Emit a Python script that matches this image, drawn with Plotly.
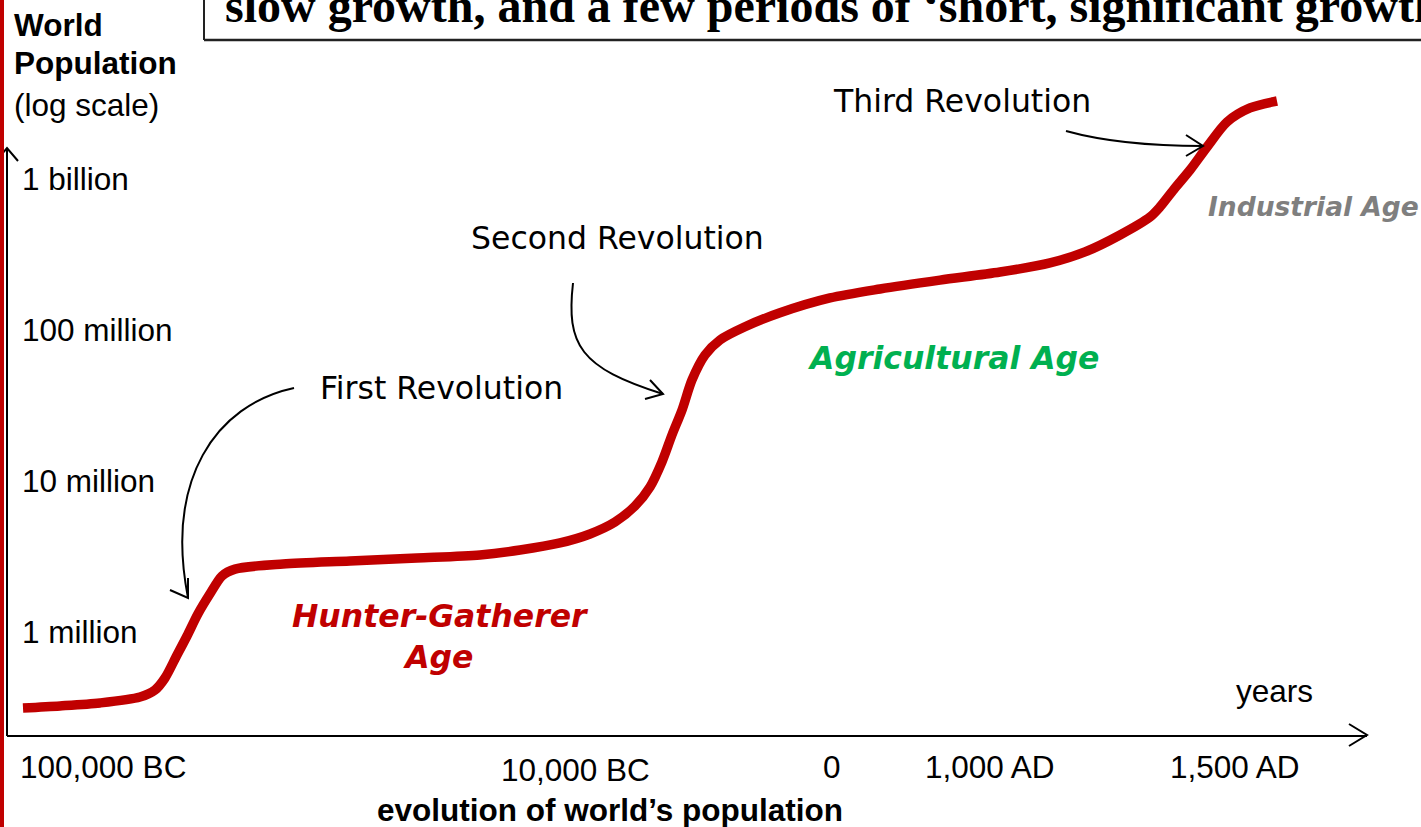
import plotly.graph_objects as go

# ---------------- data ----------------
# timeline position (non-uniform time axis) and world population (millions)
timeline_pos = [16, 53, 93, 133, 148, 158, 169, 180, 191, 203, 215, 228,
                276, 343, 410, 473, 513, 553, 583, 608, 628, 643, 655, 665,
                675, 685, 698, 713, 738, 773, 823, 873, 933, 993, 1043, 1078,
                1113, 1143, 1153, 1168, 1183, 1200, 1220, 1243, 1270]
population_millions = [0.314, 0.324, 0.339, 0.371, 0.413, 0.496, 0.683, 0.941, 1.32, 1.79, 2.35, 2.61,
                       2.82, 2.95, 3.09, 3.24, 3.49, 3.89, 4.46, 5.35, 6.83, 9.13, 13.4, 20.2,
                       29.5, 46.7, 68.3, 85.9, 105, 130, 163, 187, 214, 242, 278, 329,
                       426, 560, 653, 872, 1147, 1629, 2385, 2953, 3286]

x_tick_pos = [96, 568, 825, 983, 1228]
x_tick_labels = ["100,000 BC", "10,000 BC", "0", "1,000 AD", "1,500 AD"]
y_tick_vals = [1e6, 1e7, 1e8, 1e9]
y_tick_labels = ["1 million", "10 million", "100 million", "1 billion"]

title_text = "slow growth, and a few periods of \u2018short, significant growth"

RED = "#C00000"
GREEN = "#00B050"
GRAY = "#7F7F7F"

# ---------------- layout geometry ----------------
FW, FH = 1421, 827
L, T, R, B = 7, 60, 1367, 735
W, H = R - L, B - T


def px(x):
    return (x - L) / W


def py(y):
    return (B - y) / H


def path(cmds):
    out = []
    for c in cmds:
        if isinstance(c, str):
            out.append(c)
        else:
            out.append(f"{px(c[0]):.5f},{py(c[1]):.5f}")
    return " ".join(out)


fig = go.Figure()
fig.add_trace(go.Scatter(
    x=timeline_pos,
    y=[v * 1e6 for v in population_millions],
    mode="lines",
    line=dict(color=RED, width=9.5, shape="spline", smoothing=0.8),
    hoverinfo="skip",
    showlegend=False,
))

shapes = []
blk = dict(color="black", width=2)

# curved annotation arrows
shapes.append(dict(type="path", xref="paper", yref="paper", line=blk,
                   path=path(["M", (294, 388), "C", (215, 405), (165, 480), (188, 598)])))
shapes.append(dict(type="path", xref="paper", yref="paper", line=blk,
                   path=path(["M", (170, 590), "L", (188, 598), "L", (188, 578)])))
shapes.append(dict(type="path", xref="paper", yref="paper", line=blk,
                   path=path(["M", (573, 283), "C", (566, 345), (580, 368), (663, 394)])))
shapes.append(dict(type="path", xref="paper", yref="paper", line=blk,
                   path=path(["M", (650, 380), "L", (663, 394), "L", (645, 399)])))
shapes.append(dict(type="path", xref="paper", yref="paper", line=blk,
                   path=path(["M", (1066, 131), "Q", (1120, 146), (1203, 146)])))
shapes.append(dict(type="path", xref="paper", yref="paper", line=blk,
                   path=path(["M", (1186, 135), "L", (1203, 146), "L", (1186, 156)])))

# y axis line (stops below the top of the drawing area) and axis arrowheads
shapes.append(dict(type="line", xref="paper", yref="paper", line=blk,
                   x0=px(7), y0=py(736), x1=px(7), y1=py(148)))
shapes.append(dict(type="path", xref="paper", yref="paper", line=blk,
                   path=path(["M", (-4, 161), "L", (7, 148), "L", (18, 161)])))
shapes.append(dict(type="path", xref="paper", yref="paper", line=blk,
                   path=path(["M", (1349, 724), "L", (1367, 735), "L", (1349, 746)])))

# title box borders
shapes.append(dict(type="line", xref="paper", yref="paper", line=dict(color="#222", width=2),
                   x0=px(204), y0=py(-5), x1=px(204), y1=py(40)))
shapes.append(dict(type="line", xref="paper", yref="paper", line=dict(color="#222", width=2.5),
                   x0=px(204), y0=py(40), x1=px(1430), y1=py(40)))

# red slide border
shapes.append(dict(type="line", xref="paper", yref="paper", line=dict(color=RED, width=4),
                   x0=px(2), y0=py(-5), x1=px(2), y1=py(835)))

ann = []


def text(s, x, y, size=31.5, color="black", family="Liberation Sans, Arial", xanchor="center", bold=False, italic=False):
    if bold:
        s = f"<b>{s}</b>"
    if italic:
        s = f"<i>{s}</i>"
    ann.append(dict(text=s, x=px(x), y=py(y), xref="paper", yref="paper", showarrow=False,
                    xanchor=xanchor, yanchor="middle",
                    font=dict(size=size, color=color, family=family)))


text(title_text, 223, 6, size=48, family="Liberation Serif, Times New Roman", xanchor="left", bold=True)
text("World", 12, 25, xanchor="left", bold=True)
text("Population", 12, 63, xanchor="left", bold=True)
text("(log scale)", 12, 105, xanchor="left")
text("Third Revolution", 962, 101, family="DejaVu Sans")
text("Second Revolution", 617, 238, family="DejaVu Sans")
text("First Revolution", 442, 388, family="DejaVu Sans")
text("Hunter-Gatherer<br>Age", 441, 636, color=RED, family="DejaVu Sans", bold=True, italic=True)
text("Agricultural Age", 953, 358, color=GREEN, family="DejaVu Sans", bold=True, italic=True)
text("Industrial Age", 1313, 206, size=26.5, color=GRAY, family="DejaVu Sans", bold=True, italic=True)
text("years", 1274, 691)
text("evolution of world\u2019s population", 610, 810, bold=True)

# x-axis tick labels, placed at the timeline positions through the x axis
x_label_row = [767, 770, 767, 767, 767]
for pos, lab, row in zip(x_tick_pos, x_tick_labels, x_label_row):
    ann.append(dict(text=lab, x=pos, xref="x", y=py(row), yref="paper", showarrow=False,
                    xanchor="center", yanchor="middle",
                    font=dict(size=31.5, color="black", family="Liberation Sans, Arial")))

fig.update_layout(
    width=FW, height=FH,
    margin=dict(l=L, r=FW - R, t=T, b=FH - B, pad=0),
    paper_bgcolor="white", plot_bgcolor="white",
    shapes=shapes, annotations=ann,
    font=dict(family="Liberation Sans, Arial", size=31.5, color="black"),
    showlegend=False,
)
fig.update_xaxes(range=[0, W], showgrid=False, zeroline=False, showline=True,
                 linecolor="black", linewidth=2, ticks="", showticklabels=False,
                 tickvals=x_tick_pos)
fig.update_yaxes(type="log", range=[5.3179, 9.7881], showgrid=False, zeroline=False,
                 showline=False, ticks="",
                 tickvals=y_tick_vals, ticktext=y_tick_labels,
                 ticklabelposition="inside", ticklabelstandoff=12,
                 tickfont=dict(size=31.5, family="Liberation Sans, Arial", color="black"))

fig.write_html("out.html", config={"displayModeBar": False},
               post_script="document.body.style.margin='0';document.body.style.overflow='hidden';")
